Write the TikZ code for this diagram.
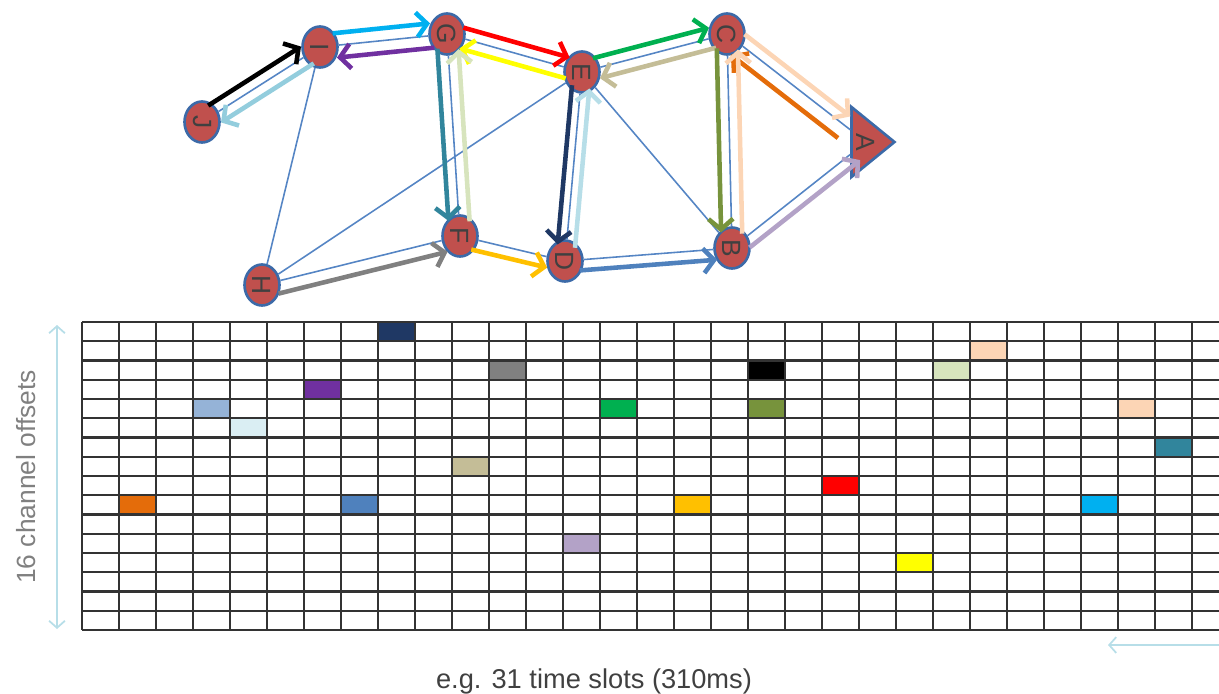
\documentclass[tikz,border=0pt]{standalone}
\usepackage{fontspec}
\setmainfont{Liberation Sans}
\setsansfont{Liberation Sans}
\usepackage{tikz}
\usetikzlibrary{arrows.meta,calc,shapes.geometric}

\definecolor{nodered}{HTML}{C0504D}
\definecolor{nodeblue}{HTML}{3C6AA8}
\definecolor{linkblue}{HTML}{5585C4}
\definecolor{letter}{HTML}{404040}
\definecolor{navy}{HTML}{1F3864}
\definecolor{plum}{HTML}{7030A0}
\definecolor{ltsteel}{HTML}{95B3D7}
\definecolor{icecyan}{HTML}{DAEEF3}
\definecolor{ijblue}{HTML}{93CDDD}
\definecolor{decyan}{HTML}{B7DEE8}
\definecolor{burnt}{HTML}{E46C0A}
\definecolor{steel}{HTML}{4F81BD}
\definecolor{slate}{HTML}{808080}
\definecolor{leaf}{HTML}{00B050}
\definecolor{moss}{HTML}{77933C}
\definecolor{khaki}{HTML}{C4BD97}
\definecolor{amber}{HTML}{FFC000}
\definecolor{lilac}{HTML}{B3A2C7}
\definecolor{peach}{HTML}{FCD5B5}
\definecolor{sage}{HTML}{D7E4BD}
\definecolor{petrol}{HTML}{31859C}
\definecolor{sky}{HTML}{00B0F0}
\definecolor{lemon}{HTML}{FFFF00}

\begin{document}
\begin{tikzpicture}[
  x=0.02cm, y=-0.02cm,
  station/.style={ellipse, draw=nodeblue, line width=1.5pt, fill=nodered, rotate=-90, minimum width=0.82cm, minimum height=0.7cm, inner sep=0pt, text=letter, font=\sffamily\fontsize{15}{15}\selectfont},
  sink/.style={isosceles triangle, isosceles triangle stretches, shape border rotate=90, rotate=-90, draw=nodeblue, line width=1.5pt, fill=nodered, minimum width=1.4cm, minimum height=0.86cm, inner sep=0pt, text=letter, font=\sffamily\fontsize{15}{15}\selectfont},
  link/.style={draw=linkblue, line width=0.9pt},
  flow/.style={line width=2.6pt, -{Straight Barb[length=6pt,width=14pt]}, shorten <=8pt, shorten >=9pt},
  gridline/.style={draw=black!80, line width=1.4pt},
  hint/.style={draw=decyan, line width=1pt},
  caption/.style={font=\sffamily\fontsize{15}{17}\selectfont, text=slate}
]
  \useasboundingbox (0,0) rectangle (1219,693);

  % stations of the mesh
  \node[station] (J) at (202,122) {J};
  \node[station] (I) at (320,47) {I};
  \node[station] (G) at (447,34) {G};
  \node[station] (E) at (582,72) {E};
  \node[station] (C) at (727,34) {C};
  \node[sink] (A) at (866,142) {A};
  \node[station] (H) at (262,285) {H};
  \node[station] (F) at (460,236) {F};
  \node[station] (D) at (565,261) {D};
  \node[station] (B) at (732,248) {B};

  % radio links
  \path[link] (J) -- (I) (I) -- (G) (G) -- (E) (E) -- (C) (C) -- (A)
    (C) -- (B) (B) -- (A) (D) -- (B) (F) -- (D) (H) -- (F)
    (G) -- (F) (E) -- (D) (I) -- (H) (H) -- (E) (E) -- (B);

  % upper chain: flows keep to the left
  \draw[flow, black] ($(J)!6pt!90:(I)$) -- ($(I)!6pt!-90:(J)$);
  \draw[flow, ijblue] ($(I)!6pt!90:(J)$) -- ($(J)!6pt!-90:(I)$);
  \draw[flow, sky] ($(I)!7pt!90:(G)$) -- ($(G)!7pt!-90:(I)$);
  \draw[flow, plum] ($(G)!7pt!90:(I)$) -- ($(I)!7pt!-90:(G)$);
  \draw[flow, red] ($(G)!6pt!90:(E)$) -- ($(E)!6pt!-90:(G)$);
  \draw[flow, lemon] ($(E)!6pt!90:(G)$) -- ($(G)!6pt!-90:(E)$);
  \draw[flow, leaf] ($(E)!6pt!90:(C)$) -- ($(C)!6pt!-90:(E)$);
  \draw[flow, khaki] ($(C)!6pt!90:(E)$) -- ($(E)!6pt!-90:(C)$);
  \draw[flow, peach, shorten >=16pt] ($(C)!6pt!90:(A)$) -- ($(A)!6pt!-90:(C)$);
  \draw[flow, burnt, shorten <=14pt] ($(A)!8pt!90:(C)$) -- ($(C)!8pt!-90:(A)$);

  % lower part: flows keep to the right
  \draw[flow, moss] ($(C)!6pt!-90:(B)$) -- ($(B)!6pt!90:(C)$);
  \draw[flow, peach] ($(B)!6pt!-90:(C)$) -- ($(C)!6pt!90:(B)$);
  \draw[flow, petrol] ($(G)!6pt!-90:(F)$) -- ($(F)!6pt!90:(G)$);
  \draw[flow, sage] ($(F)!6pt!-90:(G)$) -- ($(G)!6pt!90:(F)$);
  \draw[flow, navy] ($(E)!5pt!-90:(D)$) -- ($(D)!5pt!90:(E)$);
  \draw[flow, decyan] ($(D)!5pt!-90:(E)$) -- ($(E)!5pt!90:(D)$);
  \draw[flow, steel] ($(D)!6pt!-90:(B)$) -- ($(B)!6pt!90:(D)$);
  \draw[flow, amber] ($(F)!6pt!-90:(D)$) -- ($(D)!6pt!90:(F)$);
  \draw[flow, slate] ($(H)!7pt!-90:(F)$) -- ($(F)!7pt!90:(H)$);
  \draw[flow, lilac] ($(B)!6pt!-90:(A)$) -- ($(A)!6pt!90:(B)$);

  % slot/channel cells in use
  \foreach \c/\r/\col in {8/0/navy, 6/3/plum, 3/4/ltsteel, 4/5/icecyan, 1/9/burnt,
      7/9/steel, 11/2/slate, 18/2/black, 14/4/leaf, 18/4/moss, 10/7/khaki,
      16/9/amber, 13/11/lilac, 24/1/peach, 23/2/sage, 28/4/peach, 29/6/petrol,
      20/8/red, 27/9/sky, 22/12/lemon}
    \fill[\col] (82+37*\c,322+19.25*\r) rectangle ++(37,19.25);

  % 31 time slots x 16 channel offsets
  \foreach \r in {0,...,16}
    \draw[gridline] (82,322+19.25*\r) -- (1219,322+19.25*\r);
  \foreach \c in {0,...,30}
    \draw[gridline] (82+37*\c,322) -- (82+37*\c,630);

  % axes
  \coordinate (chtop) at (57,325);
  \coordinate (chbot) at (57,629);
  \coordinate (tsright) at (1219,645);
  \coordinate (tsleft) at (1108,645);
  \draw[hint, {Straight Barb[length=4pt,width=9pt]}-{Straight Barb[length=4pt,width=9pt]}] (chtop) -- (chbot);
  \draw[hint, -{Straight Barb[length=4pt,width=9pt]}] (tsright) -- (tsleft);
  \node[caption, rotate=90] (chlabel) at (26,477) {16 channel offsets};
  \node[caption, font=\sffamily\fontsize{15.5}{18}\selectfont, text=letter] (tslabel) at (594,681) {e.g. 31 time slots (310ms)};
\end{tikzpicture}
\end{document}
